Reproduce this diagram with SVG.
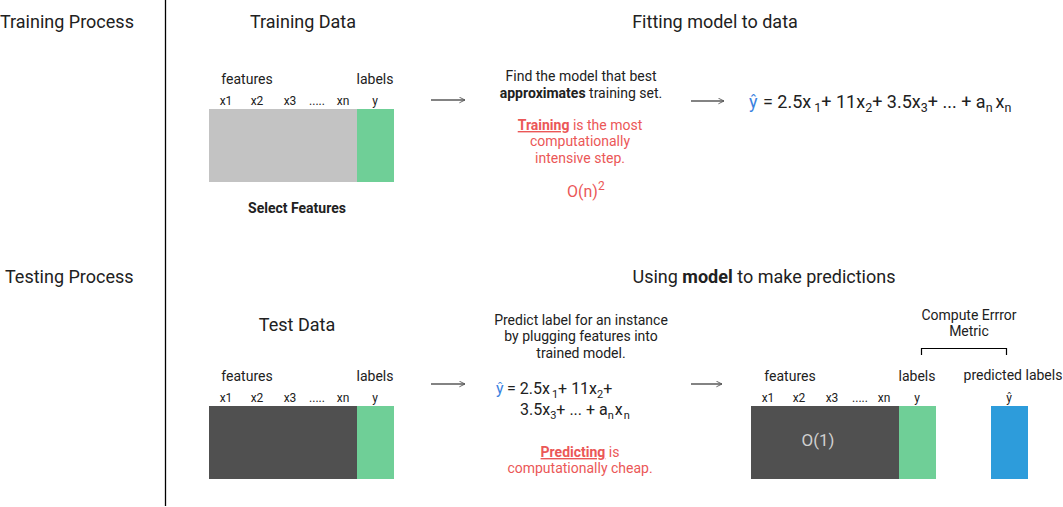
<svg xmlns="http://www.w3.org/2000/svg" width="1063" height="507" viewBox="0 0 1063 507">
<defs>
<style>
text{font-family:Roboto,"Liberation Sans",sans-serif;fill:#212121}
.h{font-size:18px}
.m{font-size:14px}
.s{font-size:12px}
.c{text-anchor:middle}
.b{font-weight:bold}
.r{fill:#eb5757}
.blue{fill:#3b82e0}
.o1{fill:#cfcfcf;font-size:17px}
.conn{stroke:#5a5a5a;stroke-width:1.5;fill:none}
</style>
<marker id="ah" viewBox="0 0 10 10" refX="9" refY="5" markerWidth="7" markerHeight="7" orient="auto" markerUnits="userSpaceOnUse">
<path d="M1,1 L9,5 L1,9" fill="none" stroke="#5a5a5a" stroke-width="1.3"/>
</marker>
</defs>
<rect width="1063" height="507" fill="#fff"/>

<g id="divider"><line x1="165.5" y1="0" x2="165.5" y2="506" stroke="#000" stroke-width="1.3"/></g>

<g id="section-labels">
<text class="h" x="0" y="28">Training Process</text>
<text class="h" x="5" y="283">Testing Process</text>
<text class="h c" x="303" y="28">Training Data</text>
<text class="h c" x="715" y="28">Fitting model to data</text>
<text class="h c" x="764" y="283">Using <tspan class="b">model</tspan> to make predictions</text>
<text class="h c" x="297" y="331">Test Data</text>
</g>

<g id="training-data">
<text class="m c" x="247" y="84">features</text>
<text class="m c" x="375" y="84">labels</text>
<text class="s c" x="226" y="105">x1</text>
<text class="s c" x="257" y="105">x2</text>
<text class="s c" x="290" y="105">x3</text>
<text class="s c" x="317" y="105">.....</text>
<text class="s c" x="343" y="105">xn</text>
<text class="s c" x="375" y="105">y</text>
<rect x="209" y="109" width="148" height="73" fill="#c3c3c3"/>
<rect x="357" y="109" width="37" height="73" fill="#6fcf97"/>
<text class="m c b" x="297" y="213">Select Features</text>
</g>

<g id="fitting">
<text class="m c" x="581" y="81">Find the model that best</text>
<text class="m c" x="581" y="98"><tspan class="b">approximates</tspan> training set.</text>
<text class="m c r" x="580" y="130"><tspan class="b" text-decoration="underline">Training</tspan> is the most</text>
<text class="m c r" x="580" y="146">computationally</text>
<text class="m c r" x="580" y="163">intensive step.</text>
<text class="r" x="567" y="197" style="font-size:16px">O(n)<tspan dy="-7" style="font-size:12px">2</tspan></text>
</g>

<g id="train-model">
<text class="blue" x="749" y="108" style="font-size:18px">ŷ</text>
<text x="763" y="108" style="font-size:18px">= 2.5x<tspan dx="3" dy="4" style="font-size:12.5px">1</tspan><tspan dy="-4">+ 11x</tspan><tspan dy="4" style="font-size:12.5px">2</tspan><tspan dy="-4">+ 3.5x</tspan><tspan dy="4" style="font-size:12.5px">3</tspan><tspan dy="-4">+ ... + a</tspan><tspan dy="4" style="font-size:12.5px">n</tspan><tspan dx="3" dy="-4">x</tspan><tspan dy="4" style="font-size:12.5px">n</tspan></text>
</g>

<g id="test-data">
<text class="m c" x="247" y="381">features</text>
<text class="m c" x="375" y="381">labels</text>
<text class="s c" x="226" y="402">x1</text>
<text class="s c" x="257" y="402">x2</text>
<text class="s c" x="290" y="402">x3</text>
<text class="s c" x="317" y="402">.....</text>
<text class="s c" x="343" y="402">xn</text>
<text class="s c" x="375" y="402">y</text>
<rect x="209" y="406" width="148" height="73" fill="#505050"/>
<rect x="357" y="406" width="37" height="73" fill="#6fcf97"/>
</g>

<g id="predict">
<text class="m c" x="581" y="325">Predict label for an instance</text>
<text class="m c" x="581" y="341">by plugging features into</text>
<text class="m c" x="581" y="358">trained model.</text>
<text class="blue" x="496" y="394" style="font-size:16px">ŷ</text>
<text x="507" y="394" style="font-size:16px">= 2.5x<tspan dx="2" dy="4" style="font-size:11px">1</tspan><tspan dy="-4">+ 11x</tspan><tspan dy="4" style="font-size:11px">2</tspan><tspan dy="-4">+</tspan></text>
<text x="520" y="415" style="font-size:16px">3.5x<tspan dy="4" style="font-size:11px">3</tspan><tspan dy="-4">+ ... + a</tspan><tspan dy="4" style="font-size:11px">n</tspan><tspan dx="1" dy="-4">x</tspan><tspan dx="1" dy="4" style="font-size:11px">n</tspan></text>
<text class="m c r" x="580" y="457"><tspan class="b" text-decoration="underline">Predicting</tspan> is</text>
<text class="m c r" x="580" y="473">computationally cheap.</text>
</g>

<g id="predictions">
<text class="m c" x="969" y="320">Compute Errror</text>
<text class="m c" x="969" y="336">Metric</text>
<path d="M921.5,355 V348.5 H1006.5 V355" fill="none" stroke="#000" stroke-width="1.2"/>
<text class="m c" x="790" y="381">features</text>
<text class="m c" x="917" y="381">labels</text>
<text class="m c" x="1013" y="380">predicted labels</text>
<text class="s c" x="768" y="402">x1</text>
<text class="s c" x="799" y="402">x2</text>
<text class="s c" x="832" y="402">x3</text>
<text class="s c" x="860" y="402">.....</text>
<text class="s c" x="884" y="402">xn</text>
<text class="s c" x="917" y="402">y</text>
<text class="s c" x="1009" y="402">ŷ</text>
<rect x="751" y="406" width="148" height="73" fill="#505050"/>
<rect x="899" y="406" width="37" height="73" fill="#6fcf97"/>
<rect x="991" y="406" width="37" height="73" fill="#2d9cdb"/>
<text class="o1 c" x="818" y="446">O(1)</text>
</g>

<g id="connectors">
<line class="conn" x1="431" y1="100" x2="465" y2="100" marker-end="url(#ah)"/>
<line class="conn" x1="691" y1="101" x2="724" y2="101" marker-end="url(#ah)"/>
<line class="conn" x1="431" y1="384" x2="465" y2="384" marker-end="url(#ah)"/>
<line class="conn" x1="691" y1="384" x2="722" y2="384" marker-end="url(#ah)"/>
</g>
</svg>
